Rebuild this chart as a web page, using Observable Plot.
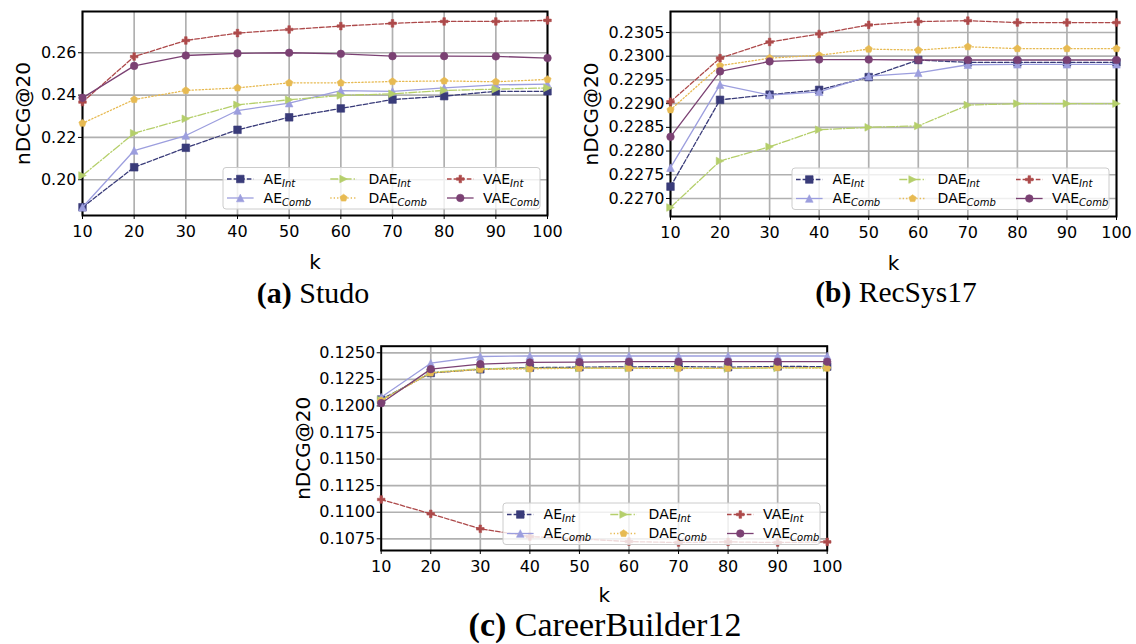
<!DOCTYPE html>
<html><head><meta charset="utf-8">
<script src="https://cdn.jsdelivr.net/npm/d3@7"></script>
<script src="https://cdn.jsdelivr.net/npm/@observablehq/plot@0.6"></script>
<style>
body{margin:0;background:#fff;}
#root{position:relative;width:1136px;height:644px;overflow:hidden;font-family:"DejaVu Sans";background:#fff;}
.panel{position:absolute;}
.cap{position:absolute;font-family:"Liberation Serif";font-size:29px;white-space:nowrap;transform:translate(-50%,-50%);line-height:1;color:#000;}
#legends{position:absolute;left:0;top:0;pointer-events:none;}
</style></head><body><div id="root"></div>
<script>
// ---- data ----
const ks = [10, 20, 30, 40, 50, 60, 70, 80, 90, 100];
const seriesBase = ["AE", "AE", "DAE", "DAE", "VAE", "VAE"];
const seriesSub = ["Int", "Comb", "Int", "Comb", "Int", "Comb"];

const studoAEInt   = [0.1870, 0.2059, 0.2151, 0.2236, 0.2295, 0.2337, 0.2379, 0.2395, 0.2418, 0.2418];
const studoAEComb  = [0.1870, 0.2138, 0.2209, 0.2327, 0.2362, 0.2421, 0.2418, 0.2434, 0.2448, 0.2452];
const studoDAEInt  = [0.2020, 0.2220, 0.2288, 0.2354, 0.2378, 0.2398, 0.2406, 0.2422, 0.2428, 0.2434];
const studoDAEComb = [0.2267, 0.2379, 0.2422, 0.2434, 0.2458, 0.2458, 0.2464, 0.2467, 0.2463, 0.2474];
const studoVAEInt  = [0.2367, 0.2582, 0.2658, 0.2693, 0.2710, 0.2726, 0.2739, 0.2748, 0.2748, 0.2753];
const studoVAEComb = [0.2387, 0.2538, 0.2587, 0.2597, 0.2600, 0.2595, 0.2584, 0.2584, 0.2583, 0.2575];
const studoTicks = [0.20, 0.22, 0.24, 0.26];

const recAEInt   = [0.22725, 0.22908, 0.22919, 0.22929, 0.22956, 0.22992, 0.22987, 0.22987, 0.22987, 0.22987];
const recAEComb  = [0.22765, 0.22940, 0.22918, 0.22925, 0.22958, 0.22965, 0.22982, 0.22983, 0.22983, 0.22983];
const recDAEInt  = [0.22681, 0.22779, 0.22809, 0.22845, 0.22850, 0.22853, 0.22897, 0.22900, 0.22900, 0.22900];
const recDAEComb = [0.22887, 0.22980, 0.22996, 0.23002, 0.23015, 0.23013, 0.23020, 0.23016, 0.23016, 0.23016];
const recVAEInt  = [0.22904, 0.22996, 0.23030, 0.23047, 0.23066, 0.23073, 0.23075, 0.23071, 0.23071, 0.23071];
const recVAEComb = [0.22830, 0.22968, 0.22989, 0.22993, 0.22993, 0.22992, 0.22992, 0.22992, 0.22992, 0.22992];
const recTicks = [0.2270, 0.2275, 0.2280, 0.2285, 0.2290, 0.2295, 0.2300, 0.2305];

const cbAEInt   = [0.12060, 0.12310, 0.12345, 0.12360, 0.12365, 0.12368, 0.12370, 0.12365, 0.12372, 0.12370];
const cbAEComb  = [0.12082, 0.12402, 0.12465, 0.12470, 0.12470, 0.12470, 0.12470, 0.12470, 0.12470, 0.12470];
const cbDAEInt  = [0.12055, 0.12315, 0.12350, 0.12355, 0.12355, 0.12355, 0.12358, 0.12352, 0.12358, 0.12360];
const cbDAEComb = [0.12050, 0.12310, 0.12343, 0.12349, 0.12355, 0.12355, 0.12352, 0.12355, 0.12360, 0.12355];
const cbVAEInt  = [0.11120, 0.10985, 0.10844, 0.10771, 0.10750, 0.10724, 0.10715, 0.10721, 0.10715, 0.10721];
const cbVAEComb = [0.12026, 0.12346, 0.12393, 0.12409, 0.12412, 0.12416, 0.12416, 0.12416, 0.12416, 0.12416];
const cbTicks = [0.1075, 0.1100, 0.1125, 0.1150, 0.1175, 0.1200, 0.1225, 0.1250];

// ---- styles ----
const seriesColors = ["#393b79", "#9c9ede", "#b5cf6b", "#e7ba52", "#ad494a", "#7b4173"];
const seriesDash = ["4.6,2", null, "8,2,1.3,2", "1.3,2.1", "4.6,2", null];

const mk = f => ({draw(ctx, size) { const r = Math.sqrt(size / Math.PI); f(ctx, r); }});
const symSquare = mk((c, r) => { c.moveTo(-r, -r); c.lineTo(r, -r); c.lineTo(r, r); c.lineTo(-r, r); c.closePath(); });
const symTriUp = mk((c, r) => { c.moveTo(0, -r); c.lineTo(r, r); c.lineTo(-r, r); c.closePath(); });
const symTriRight = mk((c, r) => { c.moveTo(r, 0); c.lineTo(-r, r); c.lineTo(-r, -r); c.closePath(); });
const symPentagon = mk((c, r) => {
  for (let i = 0; i < 5; i++) { const a = -Math.PI / 2 + i * 2 * Math.PI / 5; const px = r * Math.cos(a), py = r * Math.sin(a); if (i === 0) c.moveTo(px, py); else c.lineTo(px, py); }
  c.closePath();
});
const symPlusFilled = mk((c, r) => {
  const t = r / 3;
  c.moveTo(-t, -r); c.lineTo(t, -r); c.lineTo(t, -t); c.lineTo(r, -t); c.lineTo(r, t); c.lineTo(t, t);
  c.lineTo(t, r); c.lineTo(-t, r); c.lineTo(-t, t); c.lineTo(-r, t); c.lineTo(-r, -t); c.lineTo(-t, -t); c.closePath();
});
const symCircle = mk((c, r) => { c.moveTo(r, 0); c.arc(0, 0, r, 0, 2 * Math.PI); c.closePath(); });
const seriesSymbols = [symSquare, symTriUp, symTriRight, symPentagon, symPlusFilled, symCircle];
const markR = 3.8;

const panels = [
  {series: [studoAEInt, studoAEComb, studoDAEInt, studoDAEComb, studoVAEInt, studoVAEComb], ticks: studoTicks, fmt: ".2f",
   left: 0, top: 0, width: 560, height: 280, mL: 82, mR: 13, mT: 11, mB: 65, yDomain: [0.1831, 0.2795], ylDx: -59, kDy: 47},
  {series: [recAEInt, recAEComb, recDAEInt, recDAEComb, recVAEInt, recVAEComb], ticks: recTicks, fmt: ".4f",
   left: 560, top: 0, width: 576, height: 280, mL: 110, mR: 20, mT: 11, mB: 64, yDomain: [0.22662, 0.230943], ylDx: -79, kDy: 47},
  {series: [cbAEInt, cbAEComb, cbDAEInt, cbDAEComb, cbVAEInt, cbVAEComb], ticks: cbTicks, fmt: ".4f",
   left: 270, top: 320, width: 600, height: 300, mL: 110.7, mR: 43.3, mT: 25.7, mB: 70, yDomain: [0.10640, 0.12562], ylDx: -77.5, kDy: 45}
];

const root = document.getElementById("root");

panels.forEach(p => {
  const marks = [
    Plot.gridX({ticks: ks, stroke: "#b0b0b0", strokeOpacity: 1, strokeWidth: 1.7}),
    Plot.gridY({ticks: p.ticks, stroke: "#b0b0b0", strokeOpacity: 1, strokeWidth: 1.7}),
    Plot.frame({stroke: "#000", strokeWidth: 2}),
    Plot.axisX({ticks: ks, tickSize: 4, tickPadding: 6, label: null, tickFormat: d3.format("d")}),
    Plot.axisY({ticks: p.ticks, tickSize: 4, tickPadding: 2, label: null, tickFormat: d3.format(p.fmt)}),
    Plot.text(["k"], {frameAnchor: "bottom", lineAnchor: "middle", textAnchor: "middle", dy: p.kDy, fontSize: 20, fill: "#000"}),
    Plot.text(["nDCG@20"], {frameAnchor: "left", textAnchor: "middle", lineAnchor: "middle", dx: p.ylDx, rotate: -90, fontSize: 20, fill: "#000"})
  ];
  p.series.forEach((vals, si) => {
    const rows = ks.map((k, i) => ({k, v: vals[i]}));
    marks.push(Plot.line(rows, {x: "k", y: "v", stroke: seriesColors[si], strokeWidth: 1.3, strokeDasharray: seriesDash[si] || undefined}));
    marks.push(Plot.dot(rows, {x: "k", y: "v", symbol: seriesSymbols[si], r: markR, fill: seriesColors[si], stroke: seriesColors[si], strokeWidth: 0.6}));
  });
  const svg = Plot.plot({
    width: p.width, height: p.height,
    marginLeft: p.mL, marginRight: p.mR, marginTop: p.mT, marginBottom: p.mB,
    x: {domain: [10, 100]},
    y: {domain: p.yDomain},
    style: {fontFamily: "DejaVu Sans", fontSize: "16px", color: "#000", background: "transparent", overflow: "visible"},
    marks
  });
  const div = document.createElement("div");
  div.className = "panel";
  div.style.left = p.left + "px"; div.style.top = p.top + "px";
  div.appendChild(svg);
  root.appendChild(div);
});

// ---- legends (overlay) ----
const lsvg = d3.select(root).append("svg").attr("id", "legends").attr("width", 1136).attr("height", 644);
const legendBoxes = [{L: 223, T: 167.5}, {L: 792, T: 168}, {L: 503, T: 503}];
const colOff = [{l0: 4, l1: 30.6, m: 17.3, t: 40.6}, {l0: 107.3, l1: 134, m: 120.6, t: 145.6}, {l0: 224, l1: 250.6, m: 237.3, t: 260}];
legendBoxes.forEach(b => {
  const g = lsvg.append("g").attr("transform", `translate(${b.L},${b.T})`);
  g.append("rect").attr("width", 317).attr("height", 41.5).attr("rx", 3)
    .attr("fill", "#fff").attr("fill-opacity", 0.8).attr("stroke", "#cccccc").attr("stroke-width", 1);
  seriesBase.forEach((base, si) => {
    const col = colOff[Math.floor(si / 2)];
    const y = si % 2 === 0 ? 11.5 : 30.5;
    g.append("line").attr("x1", col.l0).attr("x2", col.l1).attr("y1", y).attr("y2", y)
      .attr("stroke", seriesColors[si]).attr("stroke-width", 1.3)
      .attr("stroke-dasharray", seriesDash[si] || null);
    g.append("path").attr("transform", `translate(${col.m},${y})`)
      .attr("d", d3.symbol(seriesSymbols[si], markR * markR * Math.PI)())
      .attr("fill", seriesColors[si]).attr("stroke", seriesColors[si]).attr("stroke-width", 0.6);
    const t = g.append("text").attr("x", col.t).attr("y", y + 4.8)
      .attr("font-family", "DejaVu Sans").attr("font-size", 14).attr("fill", "#000");
    t.append("tspan").text(base);
    t.append("tspan").attr("font-size", 10).attr("font-style", "italic").attr("dy", 3).text(seriesSub[si]);
  });
});

// ---- captions ----
const captions = [
  {x: 313, y: 293, size: 30, bold: "(a)", rest: "Studo"},
  {x: 896, y: 293, size: 29.5, bold: "(b)", rest: "RecSys17"},
  {x: 605, y: 625, size: 34, bold: "(c)", rest: "CareerBuilder12"}
];
captions.forEach(c => {
  const d = document.createElement("div");
  d.className = "cap";
  d.style.left = c.x + "px"; d.style.top = c.y + "px"; d.style.fontSize = c.size + "px";
  const b = document.createElement("b"); b.textContent = c.bold;
  d.appendChild(b);
  d.appendChild(document.createTextNode(" " + c.rest));
  root.appendChild(d);
});
</script>
</body></html>
